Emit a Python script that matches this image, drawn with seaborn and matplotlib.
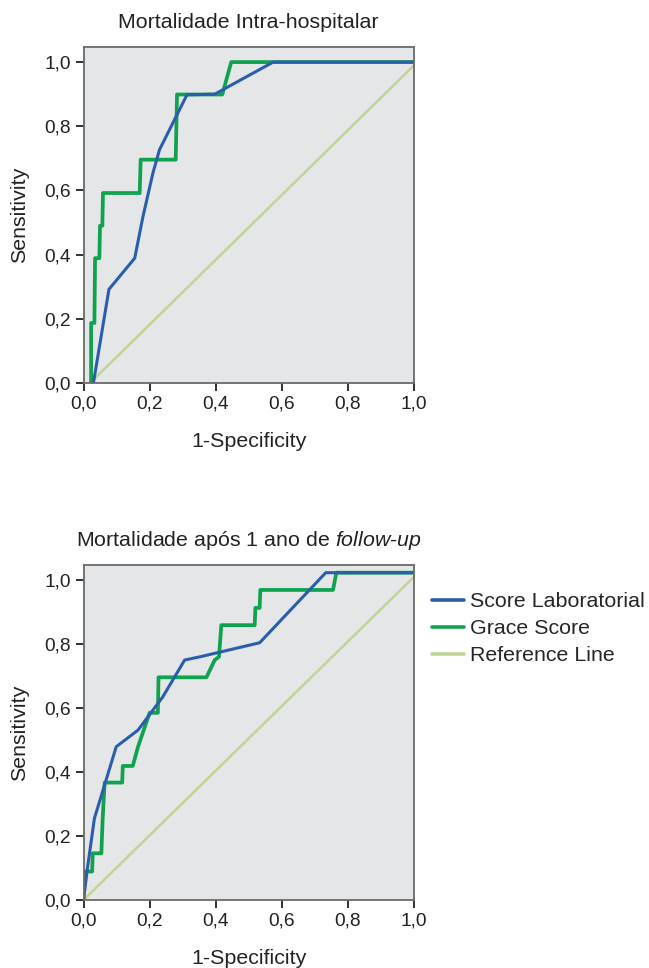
import matplotlib
matplotlib.use("Agg")
import matplotlib.pyplot as plt
import seaborn as sns
import pandas as pd
from matplotlib.lines import Line2D

sns.set_style("white")
plt.rcParams['font.family'] = ['Liberation Sans', 'DejaVu Sans']
plt.rcParams['mathtext.fontset'] = 'custom'
plt.rcParams['mathtext.rm'] = 'Liberation Sans'
plt.rcParams['mathtext.it'] = 'Liberation Sans:italic'

# ---------------- data ----------------
titles = ["Mortalidade Intra-hospitalar",
          "Mortalidade após 1 ano de $\\mathit{follow}$-$\\mathit{up}$"]
series_names = ["Score Laboratorial", "Grace Score", "Reference Line"]
tick_vals = [0.0, 0.2, 0.4, 0.6, 0.8, 1.0]
tick_labels = ["0,0", "0,2", "0,4", "0,6", "0,8", "1,0"]

# Panel 1 : in-hospital mortality
lab1_x = [0.03, 0.077, 0.155, 0.18, 0.21, 0.23, 0.313, 0.397, 0.574, 1.0]
lab1_y = [0.0, 0.292, 0.389, 0.519, 0.654, 0.727, 0.898, 0.9, 1.0, 1.0]
grace1_x = [0.023, 0.023, 0.033, 0.035, 0.048, 0.050, 0.057, 0.059, 0.17, 0.173,
            0.279, 0.283, 0.42, 0.447, 1.0]
grace1_y = [0.0, 0.187, 0.187, 0.389, 0.389, 0.49, 0.49, 0.592, 0.592, 0.696,
            0.696, 0.899, 0.899, 1.0, 1.0]
ref1_x = [0.02, 1.0]
ref1_y = [0.0, 0.99]

# Panel 2 : 1-year follow-up mortality
lab2_x = [0.0, 0.012, 0.033, 0.099, 0.165, 0.24, 0.306, 0.352, 0.533, 0.733, 1.0]
lab2_y = [0.0, 0.1, 0.255, 0.479, 0.531, 0.635, 0.75, 0.76, 0.804, 1.023, 1.023]
grace2_x = [0.0, 0.003, 0.026, 0.028, 0.054, 0.058, 0.064, 0.117, 0.119, 0.149,
            0.165, 0.2, 0.225, 0.227, 0.372, 0.397, 0.41, 0.417, 0.518, 0.52,
            0.533, 0.535, 0.755, 0.765, 1.0]
grace2_y = [0.0, 0.089, 0.089, 0.146, 0.146, 0.255, 0.367, 0.367, 0.419, 0.419,
            0.479, 0.585, 0.585, 0.696, 0.696, 0.75, 0.76, 0.859, 0.859, 0.913,
            0.913, 0.969, 0.969, 1.023, 1.023]
ref2_x = [0.0, 1.0]
ref2_y = [0.0, 1.01]

panels = [
    (lab1_x, lab1_y, grace1_x, grace1_y, ref1_x, ref1_y),
    (lab2_x, lab2_y, grace2_x, grace2_y, ref2_x, ref2_y),
]

colors = {"Score Laboratorial": "#2a5ead",
          "Grace Score": "#0fa350",
          "Reference Line": "#bfd597"}
widths = {"Score Laboratorial": 2.2, "Grace Score": 2.7, "Reference Line": 1.8}

# ---------------- figure ----------------
fig = plt.figure(figsize=(6.49, 9.68), dpi=100)
W, H = 649, 968
ax_boxes = [(83.5, 47, 414, 383), (83.5, 565, 414, 900)]

TXT = 15.4
TICK = 13.8

for (box, title, data) in zip(ax_boxes, titles, panels):
    l, t, r, b = box
    ax = fig.add_axes([l / W, 1 - b / H, (r - l) / W, (b - t) / H])
    ax.set_facecolor("#e5e6e8")
    lx, ly, gx, gy, rx, ry = data
    frames = {
        "Reference Line": pd.DataFrame({"x": rx, "y": ry}),
        "Grace Score": pd.DataFrame({"x": gx, "y": gy}),
        "Score Laboratorial": pd.DataFrame({"x": lx, "y": ly}),
    }
    for name, df in frames.items():
        sns.lineplot(data=df, x="x", y="y", ax=ax, sort=False, estimator=None,
                     color=colors[name], linewidth=widths[name])
    ax.set_xlim(0, 1.0)
    ax.set_ylim(0, 1.047)
    ax.set_xticks(tick_vals)
    ax.set_xticklabels(tick_labels)
    ax.set_yticks(tick_vals)
    ax.set_yticklabels(tick_labels)
    ax.tick_params(axis="both", direction="out", length=6, width=1.3,
                   color="#222222", labelsize=TICK, labelcolor="#222222",
                   bottom=True, left=True, pad=3)
    for s in ax.spines.values():
        s.set_color("#6a6a6a")
        s.set_linewidth(1.3)
        s.set_visible(True)
    ax.set_xlabel("1-Specificity", fontsize=TXT, color="#222222", labelpad=14)
    ax.set_ylabel("Sensitivity", fontsize=TXT, color="#222222", labelpad=11)
    ax.set_title(title, fontsize=TXT, color="#222222", pad=14)

handles = [Line2D([0], [0], color=colors[n], linewidth=2.6) for n in series_names]
fig.legend(handles, series_names, loc="upper left",
           bbox_to_anchor=(432 / W, 1 - 592 / H), frameon=False,
           fontsize=TXT, handlelength=1.5, handletextpad=0.3,
           labelspacing=0.38, borderpad=0, borderaxespad=0)

fig.savefig("out.png", dpi=100)
